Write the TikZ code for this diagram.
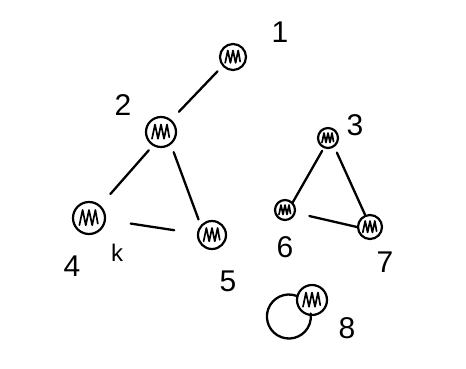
\documentclass[tikz,border=0pt]{standalone}
\usepackage{fontspec}
\setmainfont{Liberation Sans}
\begin{document}
\begin{tikzpicture}[x=1pt,y=1pt,line cap=round,line join=round,
  vert/.style={circle,draw,line width=2.2pt,minimum size=2*#1 pt,inner sep=0pt,
    path picture={\draw[line width=1.7pt] (path picture bounding box.center)
      ++(-0.6*#1,-0.45*#1) -- ++(0.2*#1,0.95*#1) -- ++(0.2*#1,-0.95*#1)
      -- ++(0.2*#1,0.95*#1) -- ++(0.2*#1,-0.95*#1) -- ++(0.2*#1,0.95*#1)
      -- ++(0.15*#1,-0.85*#1);}},
  edge/.style={line width=2.3pt},
  lab/.style={font=\fontsize{30}{30}\selectfont,inner sep=0pt}]
\useasboundingbox (0,0) rectangle (466,368);
\node[vert=13] (n1) at (233,311) {};
\node[vert=15] (n2) at (161,236) {};
\node[vert=10] (n3) at (328,230) {};
\node[vert=16] (n4) at (89,150) {};
\node[vert=14] (n5) at (212,133) {};
\node[vert=10] (n6) at (285,158) {};
\node[vert=12] (n7) at (370,141) {};
\node[vert=15] (n8) at (312,68) {};
\node[lab] (l1) at (280,336) {1};
\node[lab] (l2) at (123,263) {2};
\node[lab] (l3) at (355,243) {3};
\node[lab] (l4) at (72,102) {4};
\node[lab,font=\fontsize{24}{24}\selectfont] (lk) at (117,115) {k};
\node[lab] (l5) at (228,87) {5};
\node[lab] (l6) at (285,121) {6};
\node[lab] (l7) at (385,106) {7};
\node[lab] (l8) at (347,40) {8};
\draw[edge,shorten <=7pt,shorten >=11pt] (n1.221) -- (n2.50);
\draw[edge,shorten <=6pt,shorten >=15pt] (n2.239) -- (n4.48);
\draw[edge,shorten <=8pt,shorten >=6pt] (n2.-52) -- (n5.139);
\draw[edge,shorten <=25pt,shorten >=23pt] (n4.-6) -- (n5.175);
\draw[edge,shorten <=3pt] (n3.247) -- (n6.45);
\draw[edge,shorten <=6pt] (n3.-55) -- (n7.112);
\draw[edge,shorten <=14pt] (n6.-15) -- (n7.180);
\draw[edge] (n8.165) arc[start angle=70,end angle=368,radius=22];
\end{tikzpicture}
\end{document}
